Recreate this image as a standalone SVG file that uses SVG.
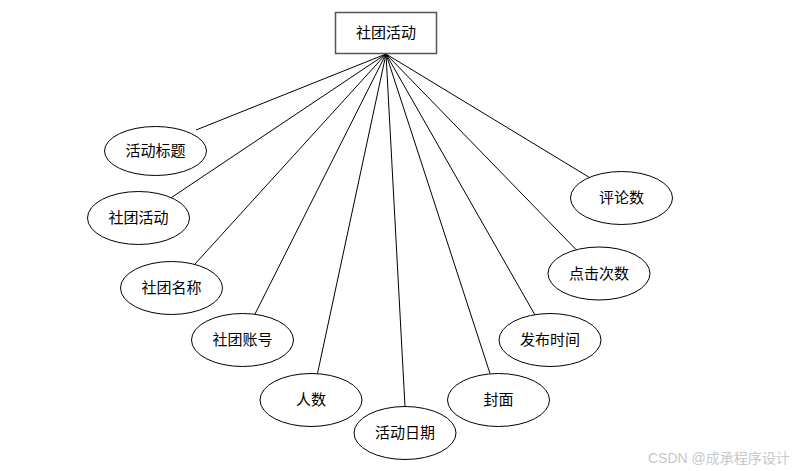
<svg xmlns="http://www.w3.org/2000/svg" width="797" height="471" viewBox="0 0 797 471">
<style>
.n{fill:#fff;stroke:#000;stroke-width:1}
.t{font-family:"Liberation Serif","Noto Sans CJK SC",serif;font-size:15px;fill:#000;text-anchor:middle;dominant-baseline:central}
.c line{stroke:#000;stroke-width:1}
.w{font-family:"Liberation Sans","Noto Sans CJK SC",sans-serif;font-size:14px;fill:#c8c8c8}
</style>
<rect width="797" height="471" fill="#fff"/>
<g class="c" id="connectors">
<line x1="386" y1="54" x2="196" y2="130"/>
<line x1="386" y1="54" x2="171.5" y2="197.5"/>
<line x1="386" y1="54" x2="195" y2="264"/>
<line x1="386" y1="54" x2="255" y2="314"/>
<line x1="386" y1="54" x2="317.5" y2="373.5"/>
<line x1="386" y1="54" x2="405" y2="406.5"/>
<line x1="386" y1="54" x2="490" y2="373.5"/>
<line x1="386" y1="54" x2="535" y2="315"/>
<line x1="386" y1="54" x2="576" y2="249.5"/>
<line x1="386" y1="54" x2="589.5" y2="177.5"/>
</g>
<g id="main"><rect class="n" x="335.5" y="12.5" width="101" height="41" style="stroke:#555;stroke-width:1.5"/><text class="t" x="386" y="33">社团活动</text></g>
<g id="a1"><ellipse class="n" cx="155.5" cy="151" rx="51" ry="24.5"/><text class="t" x="155.5" y="151">活动标题</text></g>
<g id="a2"><ellipse class="n" cx="138.5" cy="218" rx="51" ry="26.5"/><text class="t" x="138.5" y="218">社团活动</text></g>
<g id="a3"><ellipse class="n" cx="171.5" cy="288" rx="51" ry="26.5"/><text class="t" x="171.5" y="288">社团名称</text></g>
<g id="a4"><ellipse class="n" cx="242.5" cy="340" rx="51" ry="26.5"/><text class="t" x="242.5" y="340">社团账号</text></g>
<g id="a5"><ellipse class="n" cx="311" cy="400" rx="51" ry="26.5"/><text class="t" x="311" y="400">人数</text></g>
<g id="a6"><ellipse class="n" cx="405" cy="433" rx="51" ry="26.5"/><text class="t" x="405" y="433">活动日期</text></g>
<g id="a7"><ellipse class="n" cx="498.5" cy="400" rx="51" ry="26.5"/><text class="t" x="498.5" y="400">封面</text></g>
<g id="a8"><ellipse class="n" cx="550" cy="340" rx="51" ry="26.5"/><text class="t" x="550" y="340">发布时间</text></g>
<g id="a9"><ellipse class="n" cx="599" cy="273.5" rx="51" ry="26.5"/><text class="t" x="599" y="273.5">点击次数</text></g>
<g id="a10"><ellipse class="n" cx="621.5" cy="198" rx="51" ry="26.5"/><text class="t" x="621.5" y="198">评论数</text></g>
<text class="w" x="648" y="463">CSDN @成承程序设计</text>
</svg>
